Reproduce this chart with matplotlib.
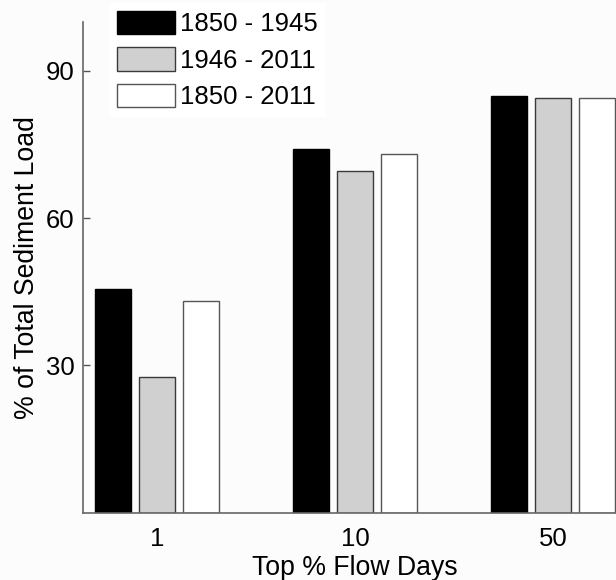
import numpy as np
import matplotlib
matplotlib.use("Agg")
import matplotlib.pyplot as plt

plt.rcParams['font.family'] = ['Liberation Sans', 'DejaVu Sans']

# Share of total sediment load carried by the top % of flow days
categories = ["1", "10", "50"]
periods = ["1850 - 1945", "1946 - 2011", "1850 - 2011"]
load_1850_1945 = [45.6, 74.1, 84.8]
load_1946_2011 = [27.6, 69.5, 84.4]
load_1850_2011 = [43.1, 73.0, 84.5]
yticks = [30, 60, 90]

series = [load_1850_1945, load_1946_2011, load_1850_2011]
fills = ["#000000", "#d0d0d0", "#ffffff"]
edges = ["#000000", "#3a3a3a", "#555555"]

fig = plt.figure(figsize=(6.16, 5.80), dpi=100, facecolor="#fcfcfc")
ax = fig.add_axes([0.1343, 0.116, 0.884, 0.8466])
ax.set_facecolor("#fcfcfc")

x = np.arange(len(categories))
step = 0.2222
width = 0.177
for i, (vals, fc, ec, lab) in enumerate(zip(series, fills, edges, periods)):
    ax.bar(x + (i - 1) * step, vals, width=width, color=fc, edgecolor=ec,
           linewidth=1.0, label=lab, zorder=2)

ax.set_xlim(-0.375, 2.375)
ax.set_ylim(0, 100)
ax.set_xticks(x)
ax.set_xticklabels(categories)
ax.set_yticks(yticks)
ax.tick_params(axis='y', direction='in', length=5, width=1, color="#555555",
               labelsize=18.5, pad=6)
ax.tick_params(axis='x', length=0, labelsize=18.5, pad=10)

for side in ("top", "right"):
    ax.spines[side].set_visible(False)
for side in ("left", "bottom"):
    ax.spines[side].set_color("#666666")
    ax.spines[side].set_linewidth(1.2)

ax.set_xlabel("Top % Flow Days", fontsize=19.2, labelpad=3)
ax.set_ylabel("% of Total Sediment Load", fontsize=19.2, labelpad=4)

leg = ax.legend(loc="upper left", bbox_to_anchor=(109.5 / 616, 1 - 3.0 / 580),
                bbox_transform=fig.transFigure, fontsize=18.5, frameon=True,
                facecolor="#ffffff", edgecolor="none", fancybox=False,
                framealpha=1.0, handlelength=2.24, handleheight=1.03,
                handletextpad=0.22, labelspacing=0.43, borderpad=0.3,
                borderaxespad=0.0)

fig.savefig("out.png", dpi=100, facecolor=fig.get_facecolor())
